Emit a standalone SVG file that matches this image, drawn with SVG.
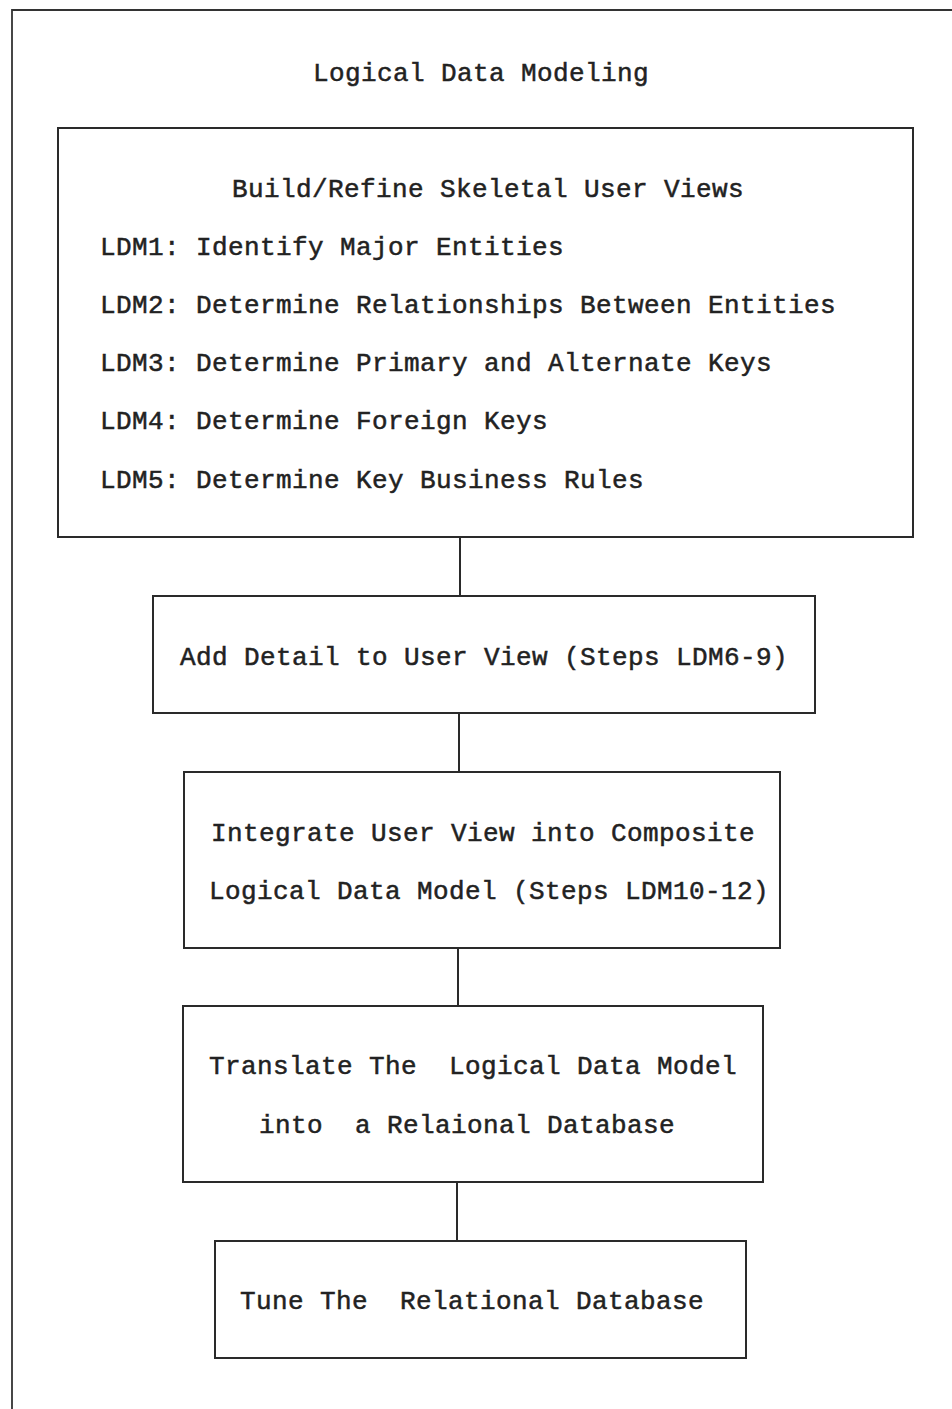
<svg xmlns="http://www.w3.org/2000/svg" width="952" height="1409" viewBox="0 0 952 1409">
<style>
.box{fill:none;stroke:#2a2a2a;stroke-width:2}
.frame{fill:none;stroke:#333;stroke-width:1.8}
.t{font-family:"Liberation Mono","DejaVu Sans Mono",monospace;font-size:26px;letter-spacing:0.4px;fill:#222;stroke:#222;stroke-width:0.5}
.c{stroke:#2a2a2a;stroke-width:2;fill:none}
</style>
<rect width="952" height="1409" fill="#fff"/>
<g id="frame">
<polyline class="frame" points="952,10 12,10 12,1409"/>
<text class="t" x="313" y="81">Logical Data Modeling</text>
</g>
<g id="connectors">
<line class="c" x1="460" y1="537" x2="460" y2="596"/>
<line class="c" x1="459" y1="713" x2="459" y2="772"/>
<line class="c" x1="458" y1="948" x2="458" y2="1006"/>
<line class="c" x1="457" y1="1182" x2="457" y2="1241"/>
</g>
<g id="node1">
<rect class="box" x="58" y="128" width="855" height="409"/>
<text class="t" x="232" y="197">Build/Refine Skeletal User Views</text>
<text class="t" x="100" y="255">LDM1: Identify Major Entities</text>
<text class="t" x="100" y="313">LDM2: Determine Relationships Between Entities</text>
<text class="t" x="100" y="371">LDM3: Determine Primary and Alternate Keys</text>
<text class="t" x="100" y="429">LDM4: Determine Foreign Keys</text>
<text class="t" x="100" y="488">LDM5: Determine Key Business Rules</text>
</g>
<g id="node2">
<rect class="box" x="153" y="596" width="662" height="117"/>
<text class="t" x="180" y="665">Add Detail to User View (Steps LDM6-9)</text>
</g>
<g id="node3">
<rect class="box" x="184" y="772" width="596" height="176"/>
<text class="t" x="211" y="841">Integrate User View into Composite</text>
<text class="t" x="209" y="899">Logical Data Model (Steps LDM10-12)</text>
</g>
<g id="node4">
<rect class="box" x="183" y="1006" width="580" height="176"/>
<text class="t" x="209" y="1074" xml:space="preserve">Translate The  Logical Data Model</text>
<text class="t" x="259" y="1133" xml:space="preserve">into  a Relaional Database</text>
</g>
<g id="node5">
<rect class="box" x="215" y="1241" width="531" height="117"/>
<text class="t" x="240" y="1309" xml:space="preserve">Tune The  Relational Database</text>
</g>
</svg>
